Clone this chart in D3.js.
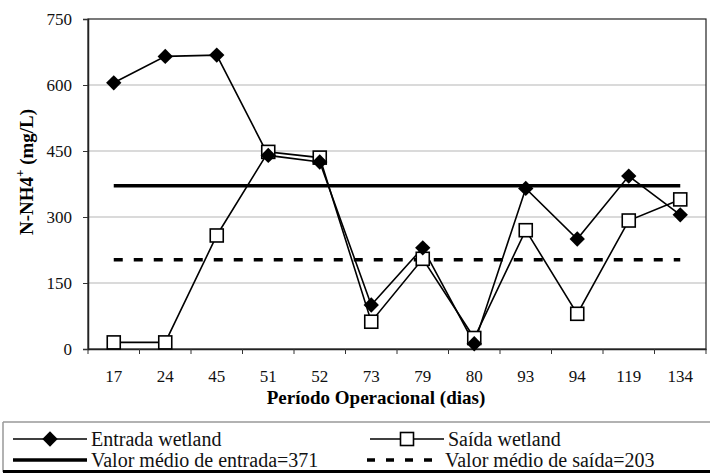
<!DOCTYPE html>
<html>
<head>
<meta charset="utf-8">
<script src="https://cdn.jsdelivr.net/npm/d3@7"></script>
<style>
  body { margin: 0; background: #fff; }
</style>
</head>
<body>
<svg id="chart" width="710" height="473" font-family="Liberation Serif"></svg>
<script>
// dias de operação (categorias)
var dias = ["17", "24", "45", "51", "52", "73", "79", "80", "93", "94", "119", "134"];
var entrada = [605, 665, 668, 440, 425, 100, 230, 12, 365, 250, 393, 305];
var saida = [15, 15, 258, 448, 435, 62, 205, 25, 270, 80, 292, 340];
var mediaEntrada = 371;
var mediaSaida = 203;
var yTicks = [0, 150, 300, 450, 600, 750];

var FONT = "Liberation Serif";
var W = 710, H = 473;
var margin = {top: 19, right: 4, bottom: 124, left: 88},
    width = W - margin.left - margin.right,
    height = H - margin.top - margin.bottom;

var svg = d3.select("#chart");

var g = svg.append("g")
    .attr("transform", "translate(" + margin.left + "," + margin.top + ")");

var x = d3.scaleBand().domain(dias).range([0, width]);
var y = d3.scaleLinear().domain([0, 750]).range([height, 0]);
var cx = function(d) { return x(d) + x.bandwidth() / 2; };

// grid
g.selectAll(".grid").data(yTicks.slice(1, -1)).enter().append("line")
    .attr("x1", 0).attr("x2", width)
    .attr("y1", function(d) { return y(d); })
    .attr("y2", function(d) { return y(d); })
    .attr("stroke", "#b5b5b5").attr("stroke-width", 1.2);

// plot frame
g.append("rect")
    .attr("width", width).attr("height", height)
    .attr("fill", "none").attr("stroke", "#222").attr("stroke-width", 1.2);

// axes
var xAxis = g.append("g")
    .attr("transform", "translate(0," + height + ")")
    .call(d3.axisBottom(x).tickSize(0).tickPadding(21));
xAxis.attr("font-family", FONT);
xAxis.select(".domain").attr("stroke", "#222").attr("stroke-width", 1.5);
xAxis.selectAll("text").attr("font-size", 17).attr("fill", "#111").attr("font-family", FONT);
// band boundary ticks
xAxis.selectAll(".bt").data(d3.range(dias.length + 1)).enter().append("line")
    .attr("x1", function(i) { return i * x.bandwidth(); })
    .attr("x2", function(i) { return i * x.bandwidth(); })
    .attr("y1", 0).attr("y2", 5)
    .attr("stroke", "#333");

var yAxis = g.append("g")
    .call(d3.axisLeft(y).tickValues(yTicks).tickSize(5).tickPadding(11));
yAxis.attr("font-family", FONT);
yAxis.select(".domain").attr("stroke", "#222").attr("stroke-width", 1.5);
yAxis.selectAll("line").attr("stroke", "#333");
yAxis.selectAll("text").attr("font-size", 17).attr("fill", "#111").attr("font-family", FONT);

// axis titles
svg.append("text")
    .attr("x", 376).attr("y", 404)
    .attr("text-anchor", "middle")
    .attr("font-family", FONT)
    .attr("font-size", 19).attr("font-weight", "bold")
    .text("Período Operacional (dias)");

var yt = svg.append("text")
    .attr("transform", "translate(33,172) rotate(-90)")
    .attr("text-anchor", "middle")
    .attr("font-family", FONT)
    .attr("font-size", 19).attr("font-weight", "bold");
yt.append("tspan").text("N-NH4");
yt.append("tspan").attr("dy", -9).attr("font-size", 13).text("+");
yt.append("tspan").attr("dy", 9).text(" (mg/L)");

// mean lines
var x0 = cx(dias[0]), x1 = cx(dias[dias.length - 1]);
g.append("line")
    .attr("x1", x0).attr("x2", x1)
    .attr("y1", y(mediaEntrada)).attr("y2", y(mediaEntrada))
    .attr("stroke", "#000").attr("stroke-width", 3.5);
g.append("line")
    .attr("x1", x0).attr("x2", x1)
    .attr("y1", y(mediaSaida)).attr("y2", y(mediaSaida))
    .attr("stroke", "#000").attr("stroke-width", 3.5)
    .attr("stroke-dasharray", "9,11");

var line = d3.line()
    .x(function(d, i) { return cx(dias[i]); })
    .y(function(d) { return y(d); });

// saída
g.append("path").datum(saida)
    .attr("d", line).attr("fill", "none")
    .attr("stroke", "#000").attr("stroke-width", 1.6);
// entrada
g.append("path").datum(entrada)
    .attr("d", line).attr("fill", "none")
    .attr("stroke", "#000").attr("stroke-width", 1.6);

g.selectAll(".sq").data(saida).enter().append("rect")
    .attr("x", function(d, i) { return cx(dias[i]) - 6.5; })
    .attr("y", function(d) { return y(d) - 6.5; })
    .attr("width", 13).attr("height", 13)
    .attr("fill", "#fff").attr("stroke", "#000").attr("stroke-width", 1.6);

var diamond = d3.symbol().type(d3.symbolDiamond2).size(150);
g.selectAll(".dm").data(entrada).enter().append("path")
    .attr("d", diamond)
    .attr("transform", function(d, i) { return "translate(" + cx(dias[i]) + "," + y(d) + ")"; })
    .attr("fill", "#000");

// legend
var lg = svg.append("g");
lg.append("line").attr("x1", 3).attr("x2", 710).attr("y1", 422).attr("y2", 422)
    .attr("stroke", "#999").attr("stroke-width", 1.5);
lg.append("line").attr("x1", 3).attr("x2", 3).attr("y1", 422).attr("y2", 472)
    .attr("stroke", "#999").attr("stroke-width", 1.5);
lg.append("line").attr("x1", 3).attr("x2", 710).attr("y1", 471.5).attr("y2", 471.5)
    .attr("stroke", "#000").attr("stroke-width", 3);

var items = [
  {label: "Entrada wetland", x: 13, y: 439, type: "entrada"},
  {label: "Saída wetland", x: 370, y: 439, type: "saida"},
  {label: "Valor médio de entrada=371", x: 13, y: 460, type: "mediaEntrada"},
  {label: "Valor médio de saída=203", x: 367, y: 460, type: "mediaSaida"}
];
items.forEach(function(it) {
  var lw = it.type === "entrada" || it.type === "saida" ? 1.6 : 3.5;
  var l = lg.append("line")
      .attr("x1", it.x).attr("x2", it.x + 74)
      .attr("y1", it.y).attr("y2", it.y)
      .attr("stroke", "#000").attr("stroke-width", lw);
  if (it.type === "mediaSaida") l.attr("stroke-dasharray", "8,11");
  var mx = it.x + 37;
  if (it.type === "entrada") {
    lg.append("path").attr("d", diamond)
        .attr("transform", "translate(" + mx + "," + it.y + ")").attr("fill", "#000");
  }
  if (it.type === "saida") {
    lg.append("rect").attr("x", mx - 6.5).attr("y", it.y - 6.5)
        .attr("width", 13).attr("height", 13)
        .attr("fill", "#fff").attr("stroke", "#000").attr("stroke-width", 1.6);
  }
  lg.append("text")
      .attr("x", it.x + 78).attr("y", it.y + 7)
      .attr("font-family", FONT)
      .attr("font-size", 20).attr("fill", "#111")
      .text(it.label);
});
</script>
</body>
</html>
